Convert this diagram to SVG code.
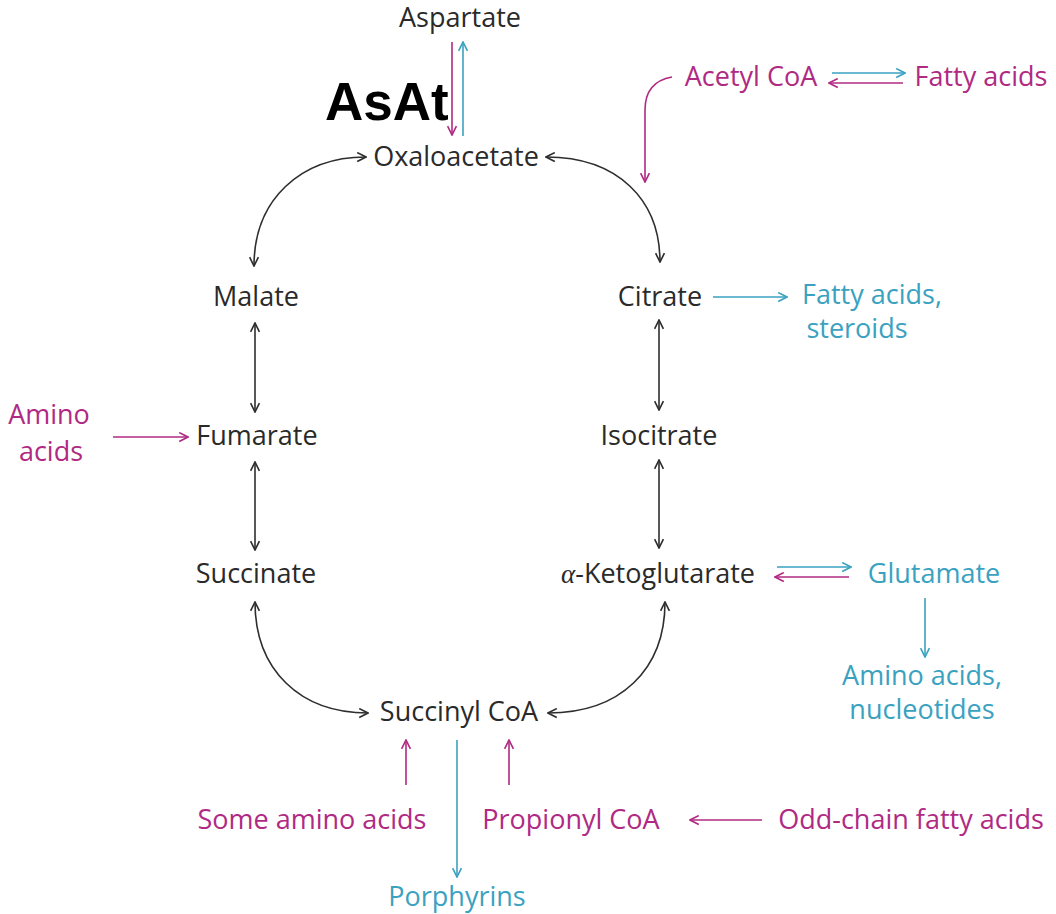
<svg xmlns="http://www.w3.org/2000/svg" width="1056" height="914" viewBox="0 0 1056 914">
<style>
text{font-family:"Open Sans","Noto Sans","DejaVu Sans",sans-serif;font-size:27px}
.k{fill:#2a2a2a}
.m{fill:#b02a83}
.c{fill:#3aa2c0}
.lk{stroke:#2e2e2e;stroke-width:1.6;fill:none}
.lm{stroke:#b02a83;stroke-width:1.6;fill:none}
.lc{stroke:#3aa2c0;stroke-width:1.6;fill:none}
</style>
<defs>
<marker id="ak" viewBox="0 0 10 10" refX="9" refY="5" markerWidth="11" markerHeight="11" markerUnits="userSpaceOnUse" orient="auto-start-reverse"><path d="M1,1 L9,5 L1,9" fill="none" stroke="#2e2e2e" stroke-width="1.5"/></marker>
<marker id="am" viewBox="0 0 10 10" refX="9" refY="5" markerWidth="11" markerHeight="11" markerUnits="userSpaceOnUse" orient="auto-start-reverse"><path d="M1,1 L9,5 L1,9" fill="none" stroke="#b02a83" stroke-width="1.5"/></marker>
<marker id="ac" viewBox="0 0 10 10" refX="9" refY="5" markerWidth="11" markerHeight="11" markerUnits="userSpaceOnUse" orient="auto-start-reverse"><path d="M1,1 L9,5 L1,9" fill="none" stroke="#3aa2c0" stroke-width="1.5"/></marker>
</defs>
<rect width="1056" height="914" fill="#ffffff"/>
<g id="connectors">
<path class="lm" d="M452 42 L452 135" marker-end="url(#am)"/>
<path class="lc" d="M463 136 L463 42" marker-end="url(#ac)"/>
<path class="lk" d="M254 266 C254 200 300 157 366 157" marker-start="url(#ak)" marker-end="url(#ak)"/>
<path class="lk" d="M546 157 C618 157 660 200 660 262" marker-start="url(#ak)" marker-end="url(#ak)"/>
<path class="lm" d="M672 77 C655 80 645 90 645 110 L645 182" marker-end="url(#am)"/>
<path class="lc" d="M832 73 L905 73" marker-end="url(#ac)"/>
<path class="lm" d="M903 83 L829 83" marker-end="url(#am)"/>
<path class="lc" d="M713 297 L787 297" marker-end="url(#ac)"/>
<path class="lk" d="M255 323 L255 412" marker-start="url(#ak)" marker-end="url(#ak)"/>
<path class="lk" d="M255 462 L255 550" marker-start="url(#ak)" marker-end="url(#ak)"/>
<path class="lk" d="M659 320 L659 410" marker-start="url(#ak)" marker-end="url(#ak)"/>
<path class="lk" d="M659 460 L659 548" marker-start="url(#ak)" marker-end="url(#ak)"/>
<path class="lm" d="M113 437 L188 437" marker-end="url(#am)"/>
<path class="lc" d="M777 567 L851 567" marker-end="url(#ac)"/>
<path class="lm" d="M849 577 L775 577" marker-end="url(#am)"/>
<path class="lc" d="M925 598 L925 657" marker-end="url(#ac)"/>
<path class="lk" d="M255 602 C255 670 300 713 368 713" marker-start="url(#ak)" marker-end="url(#ak)"/>
<path class="lk" d="M548 713 C620 713 665 670 665 602" marker-start="url(#ak)" marker-end="url(#ak)"/>
<path class="lm" d="M406 785 L406 740" marker-end="url(#am)"/>
<path class="lm" d="M509 785 L509 740" marker-end="url(#am)"/>
<path class="lc" d="M457 740 L457 877" marker-end="url(#ac)"/>
<path class="lm" d="M762 820 L690 820" marker-end="url(#am)"/>
</g>
<g id="aspartate"><text class="k" x="460" y="27" text-anchor="middle">Aspartate</text></g>
<g id="asat"><text x="325" y="120" style="font-family:'Liberation Sans',Arial,sans-serif;font-weight:bold;font-size:53px" fill="#000000">AsAt</text></g>
<g id="oxaloacetate"><text class="k" x="456" y="166" text-anchor="middle">Oxaloacetate</text></g>
<g id="acetylcoa"><text class="m" x="751" y="86" text-anchor="middle">Acetyl CoA</text></g>
<g id="fattyacids1"><text class="m" x="981" y="86" text-anchor="middle">Fatty acids</text></g>
<g id="malate"><text class="k" x="256" y="306" text-anchor="middle">Malate</text></g>
<g id="citrate"><text class="k" x="660" y="306" text-anchor="middle">Citrate</text></g>
<g id="fattyacids2"><text class="c" x="872" y="304" text-anchor="middle">Fatty acids,</text><text class="c" x="857" y="338" text-anchor="middle">steroids</text></g>
<g id="aminoacids1"><text class="m" x="49" y="424" text-anchor="middle">Amino</text><text class="m" x="51" y="461" text-anchor="middle">acids</text></g>
<g id="fumarate"><text class="k" x="257" y="445" text-anchor="middle">Fumarate</text></g>
<g id="isocitrate"><text class="k" x="659" y="445" text-anchor="middle">Isocitrate</text></g>
<g id="succinate"><text class="k" x="256" y="583" text-anchor="middle">Succinate</text></g>
<g id="ketoglutarate"><text class="k" x="658" y="583" text-anchor="middle"><tspan style="font-family:'Liberation Serif',serif;font-style:italic">α</tspan>-Ketoglutarate</text></g>
<g id="glutamate"><text class="c" x="934" y="583" text-anchor="middle">Glutamate</text></g>
<g id="aminoacids2"><text class="c" x="922" y="685" text-anchor="middle">Amino acids,</text><text class="c" x="922" y="719" text-anchor="middle">nucleotides</text></g>
<g id="succinylcoa"><text class="k" x="459" y="721" text-anchor="middle">Succinyl CoA</text></g>
<g id="someaminoacids"><text class="m" x="312" y="829" text-anchor="middle">Some amino acids</text></g>
<g id="propionylcoa"><text class="m" x="571" y="829" text-anchor="middle">Propionyl CoA</text></g>
<g id="oddchain"><text class="m" x="911" y="829" text-anchor="middle">Odd-chain fatty acids</text></g>
<g id="porphyrins"><text class="c" x="457" y="906" text-anchor="middle">Porphyrins</text></g>
</svg>
